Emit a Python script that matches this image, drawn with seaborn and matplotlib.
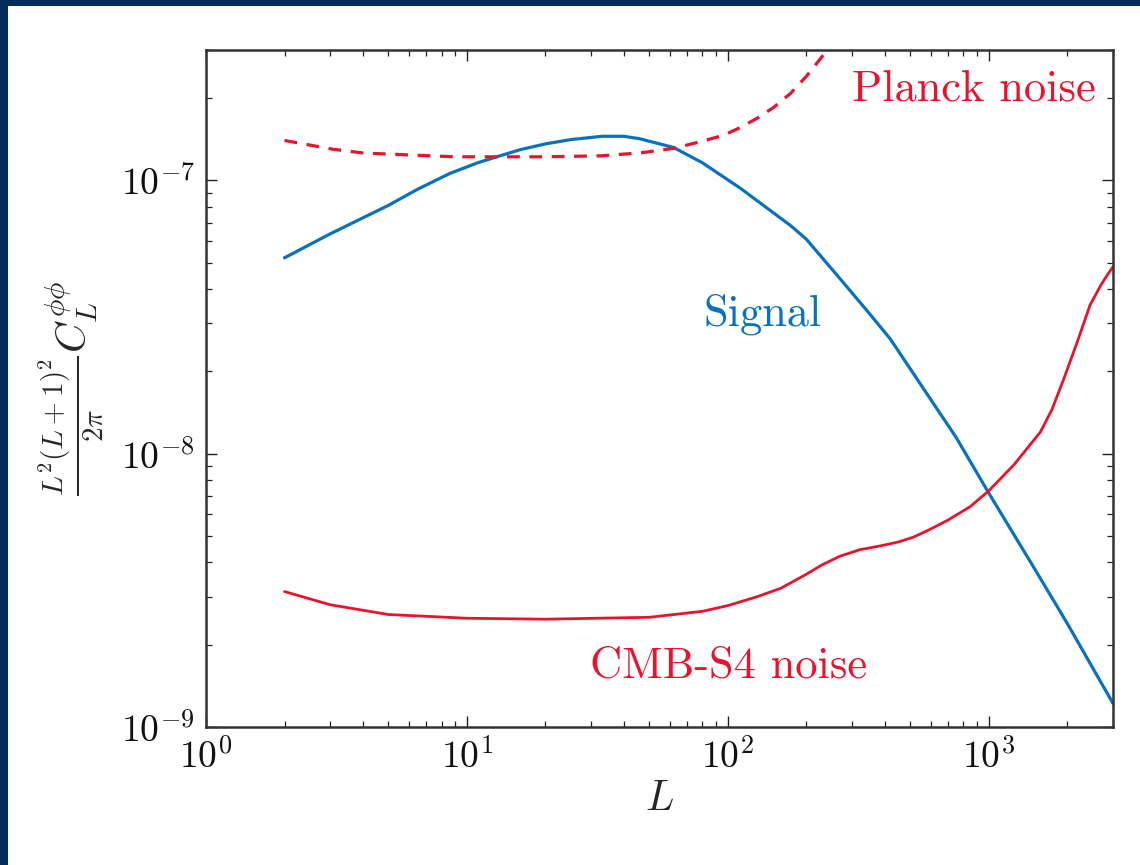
import matplotlib
matplotlib.use("Agg")
import matplotlib.pyplot as plt
import matplotlib.patches as mpatches
from matplotlib.ticker import LogLocator, NullFormatter
import seaborn as sns
import pandas as pd

# ---- data ----
signal_L = [2, 3, 5, 6.5, 8.6, 11, 13.4, 16, 20, 25, 33, 40, 46, 62, 80, 112, 150, 174, 200,
            270, 340, 420, 600, 750, 1000, 1500, 2000, 3000]
signal_C = [5.21e-8, 6.38e-8, 8.1e-8, 9.3e-8, 1.06e-7, 1.16e-7, 1.23e-7, 1.295e-7, 1.36e-7, 1.41e-7,
            1.45e-7, 1.45e-7, 1.42e-7, 1.32e-7, 1.16e-7, 9.35e-8, 7.6e-8, 6.84e-8, 6.1e-8,
            4.36e-8, 3.36e-8, 2.63e-8, 1.58e-8, 1.15e-8, 7.2e-9, 3.8e-9, 2.4e-9, 1.22e-9]

planck_L = [2, 3.07, 4, 5.9, 9, 13.4, 20, 32.5, 46, 62, 75, 96, 110, 130, 150, 174, 200, 241, 270]
planck_C = [1.40e-7, 1.30e-7, 1.26e-7, 1.24e-7, 1.22e-7, 1.22e-7, 1.22e-7, 1.23e-7, 1.26e-7,
            1.31e-7, 1.37e-7, 1.46e-7, 1.55e-7, 1.69e-7, 1.85e-7, 2.08e-7, 2.40e-7, 3.0e-7, 3.6e-7]

s4_L = [2, 3, 5, 10, 20, 50, 80, 100, 130, 160, 200, 230, 270, 320, 385, 450, 515, 600, 700,
        850, 1000, 1250, 1580, 1750, 1940, 2200, 2450, 2700, 2850, 3000]
s4_C = [3.13e-9, 2.80e-9, 2.58e-9, 2.50e-9, 2.48e-9, 2.52e-9, 2.65e-9, 2.78e-9, 3.0e-9, 3.22e-9,
        3.62e-9, 3.92e-9, 4.22e-9, 4.45e-9, 4.6e-9, 4.75e-9, 4.95e-9, 5.3e-9, 5.72e-9,
        6.4e-9, 7.3e-9, 9.1e-9, 1.2e-8, 1.45e-8, 1.87e-8, 2.6e-8, 3.5e-8, 4.15e-8, 4.5e-8, 4.83e-8]

labels = ["Signal", "Planck noise", "CMB-S4 noise"]

BLUE = "#0a72bd"
RED = "#e8132d"
NAVY = "#032d5e"

sns.set_style("ticks")
plt.rcParams["font.family"] = ["cmr10", "DejaVu Serif"]
plt.rcParams["mathtext.fontset"] = "cm"
plt.rcParams["axes.formatter.use_mathtext"] = True
plt.rcParams["axes.unicode_minus"] = False

fig = plt.figure(figsize=(11.4, 8.65), dpi=100)
fig.patch.set_facecolor("white")
ax = fig.add_axes([206 / 1140, (865 - 727) / 865, 907 / 1140, 677 / 865])

df_sig = pd.DataFrame({"L": signal_L, "C": signal_C})
df_pl = pd.DataFrame({"L": planck_L, "C": planck_C})
df_s4 = pd.DataFrame({"L": s4_L, "C": s4_C})

sns.lineplot(data=df_sig, x="L", y="C", ax=ax, color=BLUE, lw=2.3, sort=False)
sns.lineplot(data=df_pl, x="L", y="C", ax=ax, color=RED, lw=2.3, sort=False)
ax.lines[-1].set_linestyle((0, (4, 3)))
sns.lineplot(data=df_s4, x="L", y="C", ax=ax, color=RED, lw=2.0, sort=False)
for ln in ax.lines:
    ln.set_solid_joinstyle("round")

ax.set_xscale("log")
ax.set_yscale("log")
ax.set_xlim(1, 3000)
ax.set_ylim(1e-9, 3e-7)

ax.xaxis.set_major_locator(LogLocator(base=10, numticks=10))
ax.xaxis.set_minor_locator(LogLocator(base=10, subs=range(2, 10), numticks=20))
ax.yaxis.set_major_locator(LogLocator(base=10, numticks=10))
ax.yaxis.set_minor_locator(LogLocator(base=10, subs=range(2, 10), numticks=20))
ax.xaxis.set_minor_formatter(NullFormatter())
ax.yaxis.set_minor_formatter(NullFormatter())

ax.tick_params(which="both", direction="in", top=True, right=True, colors="#222222",
               labelcolor="#111111")
ax.tick_params(which="major", length=8, width=1.0, labelsize=27, pad=8)
ax.tick_params(which="minor", length=4, width=0.9)
for sp in ax.spines.values():
    sp.set_linewidth(1.8)
    sp.set_color("#333333")

ax.set_xlabel(r"$L$", fontsize=30, labelpad=4)
ax.set_ylabel(r"$\frac{L^2(L+1)^2}{2\pi}C_L^{\phi\phi}$", fontsize=30)
ax.yaxis.set_label_coords(-0.11, 0.5)

ax.text(0.712, 0.941, labels[1], transform=ax.transAxes, color=RED, fontsize=32,
        ha="left", va="center")
ax.text(0.548, 0.609, labels[0], transform=ax.transAxes, color=BLUE, fontsize=32,
        ha="left", va="center")
ax.text(0.423, 0.089, labels[2], transform=ax.transAxes, color=RED, fontsize=32,
        ha="left", va="center")

# dark frame of the slide
fig.patches.append(mpatches.Rectangle((0, 1 - 6 / 865), 1, 6 / 865, transform=fig.transFigure,
                                      facecolor=NAVY, edgecolor="none", zorder=10))
fig.patches.append(mpatches.Rectangle((0, 0), 8 / 1140, 1, transform=fig.transFigure,
                                      facecolor=NAVY, edgecolor="none", zorder=10))

fig.savefig("out.png", dpi=100, facecolor="white")
